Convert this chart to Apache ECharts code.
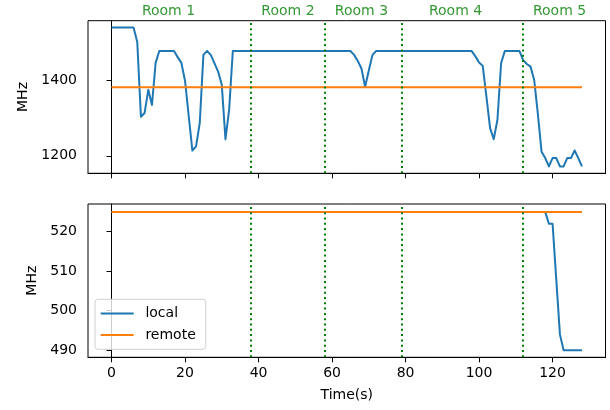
<!DOCTYPE html>
<html>
<head>
<meta charset="utf-8">
<script src="https://cdn.jsdelivr.net/npm/echarts@6/dist/echarts.min.js"></script>
<style>html,body{margin:0;padding:0;background:#fff;}#c{width:610px;height:410px;}</style>
</head>
<body>
<div id="c"></div>
<script>
// ---- data ----
var times = [0,1,2,3,4,5,6,7,8,9,10,11,12,13,14,15,16,17,18,19,20,21,22,23,24,25,26,27,28,29,30,31,32,33,34,35,36,37,38,39,40,41,42,43,44,45,46,47,48,49,50,51,52,53,54,55,56,57,58,59,60,61,62,63,64,65,66,67,68,69,70,71,72,73,74,75,76,77,78,79,80,81,82,83,84,85,86,87,88,89,90,91,92,93,94,95,96,97,98,99,100,101,102,103,104,105,106,107,108,109,110,111,112,113,114,115,116,117,118,119,120,121,122,123,124,125,126,127,128];
var localTop = [
  1538,1538,1538,1538,1538,1538,1538,1500,1303,1313,1374,1334,1445,1476,1476,1476,1476,1476,
  1460,1445,1398,1305,1214,1225,1286,1466,1476,1466,1444,1422,1387,1244,1321,
  1476,1476,1476,1476,1476,1476,1476,1476,1476,1476,1476,1476,1476,1476,1476,1476,1476,1476,1476,1476,1476,1476,1476,1476,1476,1476,1476,1476,1476,1476,1476,1476,1476,
  1466,1450,1430,1382,1425,1466,
  1476,1476,1476,1476,1476,1476,1476,1476,1476,1476,1476,1476,1476,1476,1476,1476,1476,1476,1476,1476,1476,1476,1476,1476,1476,1476,1476,
  1462,1446,1437,1356,1273,1244,1295,1444,
  1476,1476,1476,1476,1476,
  1452,1442,1435,1400,1310,1211,1194,1172,1194,1194,1172,1172,1194,1194,1214,1194,1172
];
var localBottom = [
  525,525,525,525,525,525,525,525,525,525,525,525,525,525,525,525,525,525,525,525,
  525,525,525,525,525,525,525,525,525,525,525,525,525,525,525,525,525,525,525,525,
  525,525,525,525,525,525,525,525,525,525,525,525,525,525,525,525,525,525,525,525,
  525,525,525,525,525,525,525,525,525,525,525,525,525,525,525,525,525,525,525,525,
  525,525,525,525,525,525,525,525,525,525,525,525,525,525,525,525,525,525,525,525,
  525,525,525,525,525,525,525,525,525,525,525,525,525,525,525,525,525,525,525,
  522,522,508,494,490,490,490,490,490,490
];
var remoteTop = 1381;
var remoteBottom = 525;
var roomBounds = [38, 58, 79, 112];
var roomNames = ['Room 1', 'Room 2', 'Room 3', 'Room 4', 'Room 5'];
var roomCenters = [15.5, 48, 68, 93.6, 121.9];
var roomLabelY = 1580;
var xTicks = [0, 20, 40, 60, 80, 100, 120];
var yTicksTop = [1200, 1400];
var yTicksBottom = [490, 500, 510, 520];

// ---- chart ----
var FONT = 'DejaVu Sans';
var BLUE = '#1f77b4', ORANGE = '#ff7f0e', GREEN = '#008000';
function pairs(vals) { return times.map(function (t, i) { return [t, vals[i]]; }); }
function constPairs(v) { return times.map(function (t) { return [t, v]; }); }
function plain(v) { return String(v); }

var chart = echarts.init(document.getElementById('c'), null, {renderer: 'canvas'});
var tickStyle = {show: true, inside: false, length: 5, lineStyle: {color: '#000', width: 1}};
var markLineBounds = {
  silent: true, symbol: 'none', animation: false,
  label: {show: false},
  lineStyle: {color: GREEN, type: [2, 3.3], width: 2},
  data: roomBounds.map(function (b) { return {xAxis: b}; })
};

chart.setOption({
  animation: false,
  textStyle: {fontFamily: FONT},
  grid: [
    {left: 88, right: 4.5, top: 20.7, height: 152.6, show: true, borderColor: '#000', borderWidth: 1, backgroundColor: 'transparent'},
    {left: 88, right: 4.5, top: 204, height: 153.3, show: true, borderColor: '#000', borderWidth: 1, backgroundColor: 'transparent'}
  ],
  xAxis: [
    {gridIndex: 0, type: 'value', min: -6.4, max: 134.4,
     axisLine: {show: true, lineStyle: {color: '#000', width: 1}},
     axisTick: Object.assign({customValues: xTicks}, tickStyle),
     axisLabel: {show: false, customValues: xTicks},
     splitLine: {show: false}},
    {gridIndex: 1, type: 'value', min: -6.4, max: 134.4,
     axisLine: {show: true, lineStyle: {color: '#000', width: 1}},
     axisTick: Object.assign({customValues: xTicks}, tickStyle),
     axisLabel: {show: true, customValues: xTicks, formatter: plain, fontSize: 14, color: '#000', margin: 9, fontFamily: FONT},
     splitLine: {show: false},
     name: 'Time(s)', nameLocation: 'middle', nameGap: 31,
     nameTextStyle: {fontSize: 14, color: '#000', fontFamily: FONT}}
  ],
  yAxis: [
    {gridIndex: 0, type: 'value', min: 1154, max: 1556,
     axisLine: {show: true, lineStyle: {color: '#000', width: 1}},
     axisTick: Object.assign({customValues: yTicksTop}, tickStyle),
     axisLabel: {customValues: yTicksTop, formatter: plain, fontSize: 14, color: '#000', margin: 11, fontFamily: FONT},
     splitLine: {show: false},
     name: 'MHz', nameLocation: 'middle', nameRotate: 90, nameGap: 55,
     nameTextStyle: {fontSize: 14, color: '#000', fontFamily: FONT}},
    {gridIndex: 1, type: 'value', min: 488.2, max: 527,
     axisLine: {show: true, lineStyle: {color: '#000', width: 1}},
     axisTick: Object.assign({customValues: yTicksBottom}, tickStyle),
     axisLabel: {customValues: yTicksBottom, formatter: plain, fontSize: 14, color: '#000', margin: 11, fontFamily: FONT},
     splitLine: {show: false},
     name: 'MHz', nameLocation: 'middle', nameRotate: 90, nameGap: 47.5,
     nameTextStyle: {fontSize: 14, color: '#000', fontFamily: FONT}}
  ],
  legend: {
    data: ['local', 'remote'],
    orient: 'vertical', left: 95, top: 299.3,
    icon: 'rect', itemWidth: 33, itemHeight: 2,
    itemGap: 5.6,
    padding: [6.2, 10, 6.2, 5.7],
    borderColor: '#d0d0d0', borderWidth: 1, borderRadius: 3,
    backgroundColor: 'rgba(255,255,255,0.8)',
    textStyle: {fontSize: 14, color: '#000', fontFamily: FONT, lineHeight: 16, padding: [0, 0, 0, 6.7]}
  },
  series: [
    {name: 'local', type: 'line', xAxisIndex: 0, yAxisIndex: 0, data: pairs(localTop),
     showSymbol: false, symbol: 'none', color: BLUE, lineStyle: {color: BLUE, width: 2, join: 'round'},
     markLine: markLineBounds, z: 2},
    {name: 'remote', type: 'line', xAxisIndex: 0, yAxisIndex: 0, data: constPairs(remoteTop),
     showSymbol: false, symbol: 'none', color: ORANGE, lineStyle: {color: ORANGE, width: 2}, z: 3},
    {name: 'local', type: 'line', xAxisIndex: 1, yAxisIndex: 1, data: pairs(localBottom),
     showSymbol: false, symbol: 'none', color: BLUE, lineStyle: {color: BLUE, width: 2, join: 'round'},
     markLine: markLineBounds, z: 2},
    {name: 'remote', type: 'line', xAxisIndex: 1, yAxisIndex: 1, data: constPairs(remoteBottom),
     showSymbol: false, symbol: 'none', color: ORANGE, lineStyle: {color: ORANGE, width: 2}, z: 3},
    {name: 'rooms', type: 'scatter', xAxisIndex: 0, yAxisIndex: 0, clip: false, silent: true,
     symbolSize: 0,
     data: roomNames.map(function (n, i) { return {name: n, value: [roomCenters[i], roomLabelY]}; }),
     label: {show: true, position: 'inside', formatter: '{b}', color: GREEN, fontSize: 14, fontFamily: FONT},
     z: 5}
  ]
});
</script>
</body>
</html>
